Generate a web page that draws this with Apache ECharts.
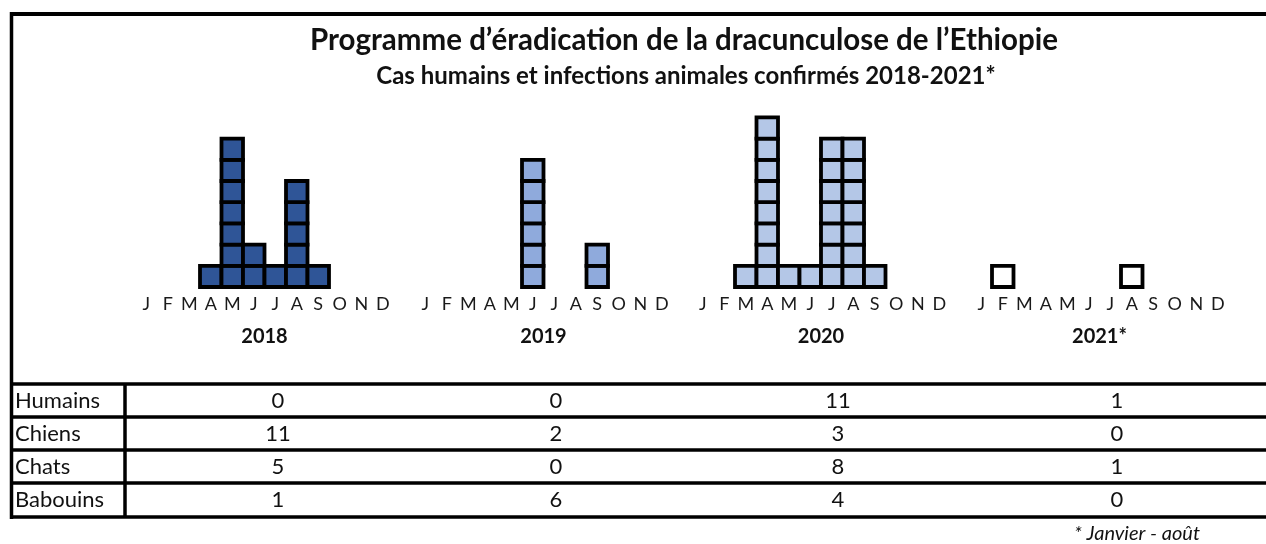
<!DOCTYPE html>
<html>
<head>
<meta charset="utf-8">
<script src="https://cdn.jsdelivr.net/npm/echarts@6/dist/echarts.min.js"></script>
<style>
html,body{margin:0;padding:0;background:#fff;}
#chart{width:1266px;height:544px;}
</style>
</head>
<body>
<div id="chart"></div>
<script>
// ---- data ----
const months = ['J','F','M','A','M','J','J','A','S','O','N','D'];
const years = ['2018','2019','2020','2021*'];
const cases2018 = [0,0,0,1,7,2,1,5,1,0,0,0];
const cases2019 = [0,0,0,0,0,6,0,0,2,0,0,0];
const cases2020 = [0,0,1,8,1,1,7,7,1,0,0,0];
const cases2021 = [0,1,0,0,0,0,0,1,0,0,0,0];
const tableRows = ['Humains','Chiens','Chats','Babouins'];
const humains  = [0,0,11,1];
const chiens   = [11,2,3,0];
const chats    = [5,0,8,1];
const babouins = [1,6,4,0];
const titleText = 'Programme d\u2019éradication de la dracunculose de l\u2019Ethiopie';
const subtitleText = 'Cas humains et infections animales confirmés 2018-2021*';
const footnote = '* Janvier - août';

// ---- layout / style ----
const FONT = 'Lato';
const yearCases = [cases2018, cases2019, cases2020, cases2021];
const yearColors = ['#2F5597', '#8FAADC', '#B4C7E7', '#FFFFFF'];
const gridLefts = [135.5, 414.5, 692, 970.5];
const gridW = 258;
const baseY = 287;
const unitH = 21.2;
const yMax = 10;

const grids = [], xAxes = [], yAxes = [], series = [];
yearCases.forEach((arr, g) => {
  grids.push({left: gridLefts[g], width: gridW, top: baseY - unitH * yMax, height: unitH * yMax});
  xAxes.push({
    type: 'category', gridIndex: g, data: months,
    axisLine: {show: false}, axisTick: {show: false}, splitLine: {show: false},
    axisLabel: {interval: 0, margin: 8, fontFamily: FONT, fontSize: 18, color: '#1a1a1a'},
    name: years[g], nameLocation: 'middle', nameGap: 40,
    nameTextStyle: {fontFamily: FONT, fontSize: 20, fontWeight: 'bold', color: '#111'}
  });
  yAxes.push({type: 'value', gridIndex: g, min: 0, max: yMax, show: false, splitLine: {show: false}});
  series.push({
    type: 'custom', xAxisIndex: g, yAxisIndex: g,
    data: arr.map((v, i) => [i, v]),
    renderItem: function (params, api) {
      const i = api.value(0), n = api.value(1);
      const w = api.size([1, 0])[0];
      const children = [];
      for (let k = 0; k < n; k++) {
        const p0 = api.coord([i, k]);
        const p1 = api.coord([i, k + 1]);
        children.push({
          type: 'rect',
          shape: {x: p0[0] - w / 2, y: p1[1], width: w, height: p0[1] - p1[1]},
          style: {fill: yearColors[g], stroke: '#000', lineWidth: 3.8}
        });
      }
      return {type: 'group', children: children};
    },
    silent: true
  });
});

// ---- table & frame graphics ----
const graphics = [];
const lineStyle = {stroke: '#000', lineWidth: 3.5};
graphics.push({type: 'line', shape: {x1: 11, y1: 14, x2: 1266, y2: 14}, style: {stroke: '#000', lineWidth: 4}});
graphics.push({type: 'line', shape: {x1: 11.5, y1: 12, x2: 11.5, y2: 519}, style: {stroke: '#000', lineWidth: 3.5}});
const rowLines = [384, 417, 450, 483, 517];
rowLines.forEach(y => graphics.push({type: 'line', shape: {x1: 10, y1: y, x2: 1266, y2: y}, style: lineStyle}));
graphics.push({type: 'line', shape: {x1: 125, y1: 384, x2: 125, y2: 517}, style: lineStyle});
const colCenters = [278, 556, 838, 1117];
const tableVals = [humains, chiens, chats, babouins];
tableRows.forEach((lab, r) => {
  const cy = (rowLines[r] + rowLines[r + 1]) / 2;
  graphics.push({type: 'text', x: 15, y: cy,
    style: {text: lab, fontFamily: FONT, fontSize: 22, fill: '#111', align: 'left', verticalAlign: 'middle'}});
  tableVals[r].forEach((v, c) => {
    graphics.push({type: 'text', x: colCenters[c], y: cy,
      style: {text: String(v), fontFamily: FONT, fontSize: 22, fill: '#111', align: 'center', verticalAlign: 'middle'}});
  });
});
graphics.push({type: 'text', x: 1200, y: 534,
  style: {text: footnote, fontFamily: FONT, fontSize: 20, fontStyle: 'italic', fill: '#111', align: 'right', verticalAlign: 'middle'}});

const chart = echarts.init(document.getElementById('chart'), null, {renderer: 'canvas'});
chart.setOption({
  animation: false,
  backgroundColor: '#fff',
  title: [
    {text: titleText, left: 679, top: 20, textAlign: 'center',
      textStyle: {fontFamily: FONT, fontSize: 29.5, fontWeight: 'bold', color: '#111'}},
    {text: subtitleText, left: 681, top: 59, textAlign: 'center',
      textStyle: {fontFamily: FONT, fontSize: 24, fontWeight: 'bold', color: '#111'}}
  ],
  grid: grids, xAxis: xAxes, yAxis: yAxes, series: series,
  graphic: graphics
});
</script>
</body>
</html>
